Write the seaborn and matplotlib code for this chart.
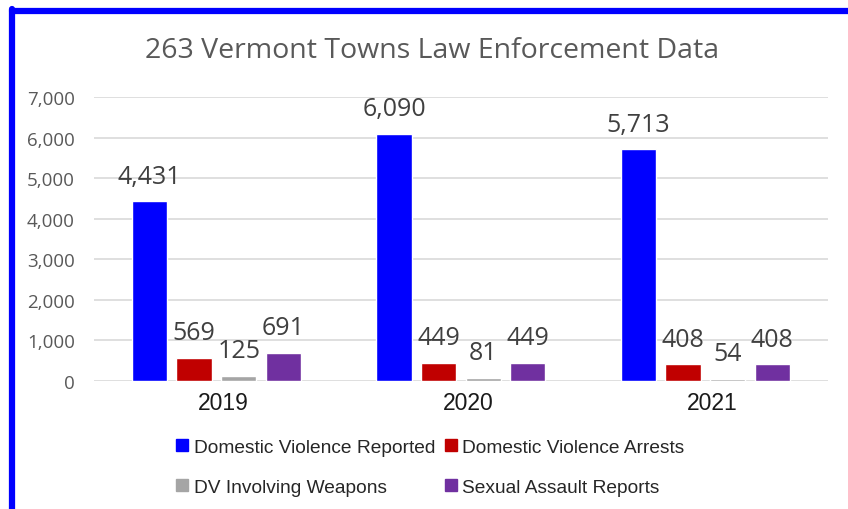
import seaborn as sns
import matplotlib.pyplot as plt
import matplotlib.lines as mlines
import matplotlib.transforms as mtransforms
import pandas as pd

sns.set_theme(style="white")

years = ["2019", "2020", "2021"]
series = ["Domestic Violence Reported", "Domestic Violence Arrests",
          "DV Involving Weapons", "Sexual Assault Reports"]
dv_reported = [4431, 6090, 5713]
dv_arrests = [569, 449, 408]
dv_weapons = [125, 81, 54]
sexual_assault = [691, 449, 408]
colors = ["#0000FF", "#C00000", "#A5A5A5", "#7030A0"]

rows = []
for name, vals in zip(series, [dv_reported, dv_arrests, dv_weapons, sexual_assault]):
    for y, v in zip(years, vals):
        rows.append({"year": y, "series": name, "value": v})
df = pd.DataFrame(rows)

sans = ["Open Sans", "DejaVu Sans"]
narrow = ["Liberation Sans Narrow", "Liberation Sans", "DejaVu Sans"]

fig = plt.figure(figsize=(8.48, 5.10), dpi=100)
ax = fig.add_axes([0.111, 0.251, 0.865, 0.557])

sns.barplot(data=df, x="year", y="value", hue="series", hue_order=series,
            palette=colors, width=0.73, gap=0.21, saturation=1,
            errorbar=None, ax=ax, legend=False)

for c in ax.containers:
    ax.bar_label(c, labels=[f"{int(v):,}" for v in c.datavalues], padding=9,
                 fontsize=18, color="#404040", family=sans)

ax.set_ylim(0, 7000)
ax.set_yticks(range(0, 7001, 1000))
ax.set_yticklabels([f"{v:,}" for v in range(0, 7001, 1000)], family=sans,
                   fontsize=13.5, color="#595959")
ax.set_xticks(range(3))
ax.set_xticklabels(years, family=narrow, fontsize=16.5, color="#1a1a1a")
ax.tick_params(axis="both", length=0)
ax.tick_params(axis="y", pad=14)
ax.tick_params(axis="x", pad=7)
# category labels sit a little right of the bar groups in the original
shift = mtransforms.ScaledTranslation(7 / 100, 0, fig.dpi_scale_trans)
for lab in ax.get_xticklabels():
    lab.set_transform(lab.get_transform() + shift)
ax.set_xlabel("")
ax.set_ylabel("")
ax.yaxis.grid(True, color="#D9D9D9", linewidth=1.2)
ax.set_axisbelow(True)
for s in ax.spines.values():
    s.set_visible(False)

fig.text(0.51, 0.9, "263 Vermont Towns Law Enforcement Data", ha="center",
         va="center", fontsize=20.5, color="#595959", family=sans)

handles = [mlines.Line2D([], [], marker="s", linestyle="none", markersize=8.5,
                         color=c) for c in colors]
order = [0, 2, 1, 3]
fig.legend([handles[i] for i in order], [series[i] for i in order],
           ncol=2, loc="center", bbox_to_anchor=(0.506, 0.082), frameon=False,
           prop={"family": narrow, "size": 13.8}, handletextpad=0.15,
           columnspacing=0.35, labelspacing=1.2, handlelength=0.9,
           labelcolor="#262626")

# blue frame (top and left edges visible in the crop)
fig.add_artist(mlines.Line2D([12 / 848, 1], [1 - 12 / 510, 1 - 12 / 510],
                             transform=fig.transFigure, color="#0000FF", linewidth=4.5))
fig.add_artist(mlines.Line2D([12 / 848, 12 / 848], [0, 1 - 10 / 510],
                             transform=fig.transFigure, color="#0000FF", linewidth=4.5))

fig.savefig("out.png", dpi=100)
